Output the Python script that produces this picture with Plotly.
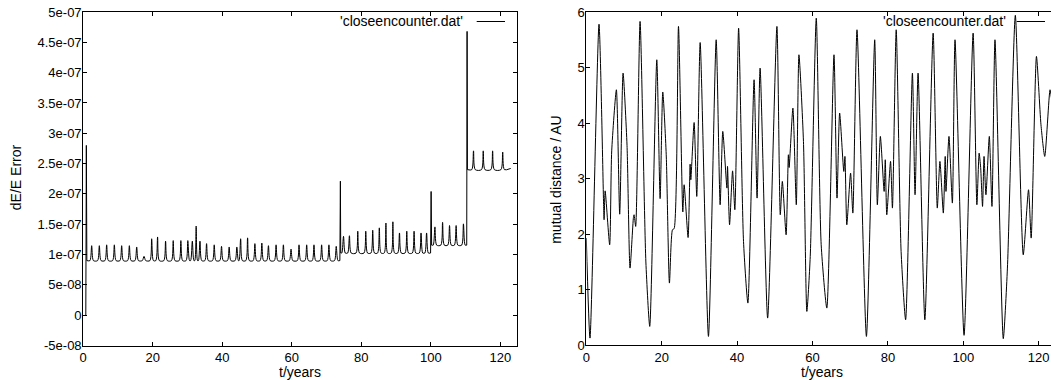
import plotly.graph_objects as go

# ---------------- data ----------------
# Left panel: relative energy error dE/E (values in units of 1e-8)
LEFT_T = [0.75, 0.9, 1.05, 1.94,
          2.44, 2.94, 4.14, 4.64, 5.14, 6.25, 6.75, 7.25, 8.46, 8.96, 9.46, 10.57,
          11.07, 11.57, 12.78, 13.28, 13.78, 14.89, 15.39, 15.89, 17.0, 17.5, 18.0, 19.2,
          19.7, 20.2, 20.9, 21.4, 21.9, 23.2, 23.7, 24.2, 25.4, 25.9, 26.4, 27.6,
          28.1, 28.6, 29.6, 30.1, 30.6, 30.9, 31.4, 31.85, 32.1, 32.5, 32.9, 33.15,
          33.6, 34.1, 35.0, 35.5, 36.0, 37.2, 37.7, 38.2, 39.3, 39.8, 40.3, 41.5,
          42.0, 42.5, 43.7, 44.2, 44.65, 44.85, 45.3, 45.8, 46.8, 47.3, 47.8, 48.9,
          49.4, 49.9, 50.9, 51.4, 51.9, 52.8, 53.3, 53.8, 55.0, 55.5, 56.0, 57.1,
          57.6, 58.1, 59.3, 59.8, 60.3, 61.6, 62.1, 62.6, 63.8, 64.3, 64.8, 65.9,
          66.4, 66.9, 68.1, 68.6, 69.1, 70.2, 70.7, 71.2, 72.3, 72.8, 73.3, 73.85,
          74.0, 74.1, 74.4, 74.9, 75.4, 76.1, 76.6, 77.1, 78.5, 79.0, 79.5, 80.8,
          81.3, 81.8, 82.8, 83.3, 83.8, 84.7, 85.2, 85.7, 86.6, 87.1, 87.6, 88.6,
          89.1, 89.6, 90.5, 91.0, 91.5, 92.6, 93.1, 93.6, 94.7, 95.2, 95.7, 96.7,
          97.2, 97.7, 98.3, 98.8, 99.3, 99.95, 100.1, 100.25, 100.7, 101.2, 101.7, 102.9,
          103.4, 103.9, 104.9, 105.4, 105.9, 106.8, 107.3, 107.8, 108.9, 109.4, 109.9, 110.35,
          110.45, 110.55, 111.8, 112.3, 112.8, 114.6, 115.1, 115.6, 117.3, 117.8, 118.3, 120.2,
          120.7, 121.2, 123.0]
LEFT_V = [0.0, 28.0, 9.0, 9.0,
          11.46, 9.0, 9.0, 11.46, 9.0, 9.0, 11.6, 9.0, 9.0, 11.6, 9.0, 9.0,
          11.46, 9.0, 9.0, 11.46, 9.0, 9.0, 11.25, 9.0, 9.0, 9.7, 9.0, 9.0,
          12.6, 9.0, 9.0, 12.9, 9.0, 9.0, 12.2, 9.0, 9.0, 12.3, 9.0, 9.0,
          12.3, 9.0, 9.0, 12.3, 9.0, 9.0, 12.2, 9.0, 9.0, 14.7, 9.0, 9.0,
          12.2, 9.0, 9.0, 11.8, 9.0, 9.0, 11.6, 9.0, 9.0, 11.35, 9.0, 9.0,
          11.25, 9.0, 9.0, 11.25, 9.0, 9.0, 12.6, 9.0, 9.0, 12.75, 9.0, 9.0,
          11.8, 9.0, 9.0, 11.9, 9.0, 9.0, 11.46, 9.0, 9.0, 11.6, 9.0, 9.0,
          11.6, 9.0, 9.0, 10.9, 9.0, 9.0, 11.6, 9.0, 9.0, 11.6, 9.0, 9.0,
          11.6, 9.0, 9.0, 11.6, 9.0, 9.0, 11.6, 9.0, 9.0, 11.35, 9.0, 9.0,
          22.1, 10.25, 10.25, 13.0, 10.25, 10.25, 13.1, 10.25, 10.25, 13.84, 10.25, 10.25,
          13.84, 10.25, 10.25, 14.0, 10.25, 10.25, 14.4, 10.25, 10.25, 15.2, 10.25, 10.25,
          15.4, 10.25, 10.25, 13.56, 10.25, 10.25, 13.84, 10.25, 10.25, 13.84, 10.25, 10.25,
          13.56, 10.25, 10.25, 13.56, 10.25, 10.25, 20.4, 11.55, 11.55, 14.56, 11.55, 11.55,
          15.3, 11.55, 11.55, 14.78, 11.55, 11.55, 14.78, 11.55, 11.55, 15.06, 11.55, 11.55,
          46.8, 24.0, 24.0, 27.1, 24.0, 24.0, 27.1, 24.0, 24.0, 27.1, 24.0, 24.0,
          26.9, 24.0, 24.2]
# times of the close-encounter jumps (drawn as straight strokes)
JUMP_T = [0.9, 74.0, 100.1, 110.45]

# Right panel: mutual distance / AU
RIGHT_T = [0.0, 0.98, 3.37, 4.6, 4.72, 5.0, 6.2, 6.74, 7.98, 8.86, 9.75, 10.8, 11.6,
           12.5, 12.67, 13.1, 14.26, 15.8, 16.83, 18.7, 19.58, 20.28, 21.2, 22.05, 22.85,
           23.3, 24.45, 25.6, 25.95, 27.0, 27.54, 27.72, 28.6, 29.3, 30.2, 32.4, 34.45,
           35.5, 36.2, 37.3, 37.46, 38.0, 38.8, 39.4, 40.4, 41.7, 42.86, 44.5, 45.3, 46.1,
           48.1, 50.56, 51.45, 52.0, 53.0, 53.6, 53.8, 54.8, 55.7, 56.4, 57.6, 58.5, 59.4,
           61.0, 62.3, 63.8, 65.7, 66.5, 67.2, 68.3, 68.6, 69.1, 70.1, 70.7, 71.8, 74.3,
           76.5, 77.2, 78.0, 79.0, 79.3, 79.7, 80.7, 81.2, 82.2, 83.5, 84.7, 86.5, 87.2,
           88.0, 89.8, 92.0, 93.1, 93.8, 94.7, 95.2, 95.4, 96.2, 97.1, 97.8, 100.2, 102.6,
           103.6, 104.2, 104.6, 105.1, 105.5, 106.0, 106.9, 107.6, 108.4, 110.6, 111.7,
           113.8, 115.9, 117.3, 118.0, 119.4, 120.6, 121.6, 123.0, 123.4]
RIGHT_D = [1.93, 0.13, 5.78, 2.5, 2.26, 2.78, 1.81, 3.5, 4.6, 2.36, 4.9, 3.6, 1.39,
           2.3, 2.35, 2.14, 5.83, 1.5, 0.34, 5.14, 2.64, 4.56, 3.43, 1.12, 2.08,
           2.1, 5.74, 2.4, 2.89, 1.94, 3.26, 2.98, 4.01, 2.68, 5.45, 0.16, 5.5,
           2.53, 3.85, 2.83, 3.22, 2.17, 3.14, 2.44, 5.71, 1.87, 0.76, 4.78, 2.65, 4.99,
           0.49, 5.74, 2.35, 2.95, 1.99, 3.43, 3.2, 4.27, 2.53, 5.23, 3.67, 0.61, 1.6,
           5.89, 1.81, 0.67, 5.23, 2.65, 4.18, 3.13, 3.4, 2.17, 3.1, 2.38, 5.68, 0.16,
           5.5, 2.53, 3.76, 2.77, 3.34, 2.35, 3.31, 2.47, 5.68, 1.69, 0.46, 4.9, 2.71,
           4.9, 0.46, 5.62, 2.47, 3.31, 2.38, 3.4, 2.77, 3.76, 2.56, 5.5, 0.18, 5.62,
           2.53, 3.46, 3.2, 2.5, 3.4, 2.71, 3.76, 2.5, 5.5, 0.12, 1.39,
           5.94, 1.63, 2.8, 1.93, 5.2, 3.97, 3.4, 4.6, 4.45]

X_TICKS = [0, 20, 40, 60, 80, 100, 120]
LEFT_Y_TICKS = [-5e-8, 0, 5e-8, 1e-7, 1.5e-7, 2e-7, 2.5e-7, 3e-7, 3.5e-7, 4e-7, 4.5e-7, 5e-7]
LEFT_Y_LABELS = ["-5e-08", "0", "5e-08", "1e-07", "1.5e-07", "2e-07", "2.5e-07",
                 "3e-07", "3.5e-07", "4e-07", "4.5e-07", "5e-07"]
RIGHT_Y_TICKS = [0, 1, 2, 3, 4, 5, 6]
SERIES_NAME = "'closeencounter.dat'"
X_TITLE = "t/years"
LEFT_Y_TITLE = "dE/E Error"
RIGHT_Y_TITLE = "mutual distance / AU"

# ---------------- figure ----------------
W, H = 1051, 380
FONT = "Liberation Sans, Arial, Helvetica, sans-serif"


def px(x):
    return x / W


def py(y):
    return 1 - y / H


fig = go.Figure()

# left series: smooth segments between the jumps, straight strokes across the jumps
left_y = [v * 1e-8 for v in LEFT_V]
jump_idx = [LEFT_T.index(t) for t in JUMP_T]
start = 0
pieces = []
for i in jump_idx:
    if i - start >= 2:
        pieces.append((start, i, "spline"))
    pieces.append((i - 1, i + 2, "linear"))
    start = i + 1
pieces.append((start, len(LEFT_T), "spline"))
for a, b, shape in pieces:
    line = dict(color="black", width=1, shape=shape)
    if shape == "spline":
        line["smoothing"] = 0.8
    fig.add_trace(go.Scatter(x=LEFT_T[a:b], y=left_y[a:b], mode="lines", line=line,
                             xaxis="x", yaxis="y", name=SERIES_NAME, hoverinfo="x+y"))

fig.add_trace(go.Scatter(x=RIGHT_T, y=RIGHT_D, mode="lines",
                         line=dict(color="black", width=1, shape="spline", smoothing=0.6),
                         xaxis="x2", yaxis="y2", name=SERIES_NAME))

common = dict(showgrid=False, zeroline=False, showline=True, linecolor="black",
              linewidth=1, ticks="inside", ticklen=4, tickcolor="black", tickwidth=1,
              automargin=False,
              tickfont=dict(family=FONT, size=13, color="black"))

fig.update_layout(
    width=W, height=H, margin=dict(l=0, r=0, t=0, b=0),
    paper_bgcolor="white", plot_bgcolor="white", showlegend=False,
    xaxis=dict(domain=[px(83.2), px(517.3)], range=[0, 124.9], tickvals=X_TICKS,
               mirror="allticks", anchor="y", **common),
    yaxis=dict(domain=[py(345.5), py(12)], range=[-5e-8, 5e-7], tickvals=LEFT_Y_TICKS,
               ticktext=LEFT_Y_LABELS, mirror="allticks", anchor="x",
               ticklabelstandoff=-2, **common),
    xaxis2=dict(domain=[px(586.3), 1.0], range=[0, 123.26], tickvals=X_TICKS,
                mirror="allticks", anchor="y2", **common),
    yaxis2=dict(domain=[py(345.3), py(12)], range=[0, 6], tickvals=RIGHT_Y_TICKS,
                mirror=False, anchor="x2", ticklabelstandoff=-2, **common),
)

ann_font = dict(family=FONT, size=14, color="black")
fig.add_annotation(x=px(16.7), y=py(177.5), xref="paper", yref="paper", text=LEFT_Y_TITLE,
                   textangle=-90, showarrow=False, font=ann_font, xanchor="center", yanchor="middle")
fig.add_annotation(x=px(555.8), y=py(180), xref="paper", yref="paper", text=RIGHT_Y_TITLE,
                   textangle=-90, showarrow=False, font=ann_font, xanchor="center", yanchor="middle")
fig.add_annotation(x=px(300.2), y=py(371.7), xref="paper", yref="paper", text=X_TITLE,
                   showarrow=False, font=ann_font, xanchor="center", yanchor="middle")
fig.add_annotation(x=px(821.5), y=py(371.7), xref="paper", yref="paper", text=X_TITLE,
                   showarrow=False, font=ann_font, xanchor="center", yanchor="middle")

# key entries (gnuplot-style: text then line sample)
for text_right, l0, l1 in [(465, 476.7, 505), (1008, 1016.7, 1045)]:
    fig.add_annotation(x=px(text_right), y=py(21), xref="paper", yref="paper",
                       text=SERIES_NAME, showarrow=False, font=ann_font,
                       xanchor="right", yanchor="middle")
    fig.add_shape(type="line", xref="paper", yref="paper", x0=px(l0), x1=px(l1),
                  y0=py(21.5), y1=py(21.5), line=dict(color="black", width=1))

fig.write_html("out.html")
